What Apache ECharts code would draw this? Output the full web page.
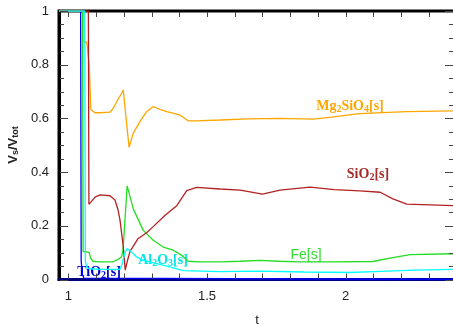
<!DOCTYPE html>
<html>
<head>
<meta charset="utf-8">
<script src="https://cdn.jsdelivr.net/npm/echarts@6/dist/echarts.min.js"></script>
<style>
  html, body { margin: 0; padding: 0; background: #fff; }
  #chart { width: 453px; height: 324px; }
</style>
</head>
<body>
<div id="chart"></div>
<script>
// values
const tTiO2 = [0.966, 1.044, 1.046, 1.050, 1.056, 1.062, 2.395];
const vTiO2 = [1, 1, 0.07, 0.02, 0.005, 0, 0];

const tFe = [0.966, 1.051, 1.053, 1.063, 1.075, 1.080, 1.088, 1.114, 1.161, 1.180, 1.192, 1.197, 1.212, 1.234, 1.270, 1.306, 1.342, 1.378, 1.409, 1.432, 1.475, 1.55, 1.62, 1.69, 1.76, 1.836, 1.95, 2.099, 2.16, 2.233, 2.395];
const vFe = [1, 1, 0.104, 0.104, 0.100, 0.080, 0.068, 0.066, 0.066, 0.075, 0.085, 0.11, 0.349, 0.263, 0.183, 0.146, 0.121, 0.109, 0.090, 0.068, 0.066, 0.066, 0.068, 0.071, 0.068, 0.066, 0.066, 0.067, 0.080, 0.093, 0.096];

const tMg2SiO4 = [0.966, 1.055, 1.057, 1.066, 1.073, 1.075, 1.081, 1.096, 1.114, 1.150, 1.160, 1.174, 1.190, 1.198, 1.208, 1.219, 1.234, 1.258, 1.282, 1.306, 1.330, 1.355, 1.402, 1.432, 1.463, 1.547, 1.65, 1.764, 1.883, 1.95, 2.05, 2.221, 2.395];
const vMg2SiO4 = [1, 1, 0.882, 0.885, 0.89, 0.80, 0.632, 0.621, 0.621, 0.623, 0.635, 0.662, 0.69, 0.706, 0.600, 0.492, 0.545, 0.588, 0.625, 0.644, 0.634, 0.625, 0.613, 0.591, 0.591, 0.594, 0.598, 0.600, 0.597, 0.605, 0.618, 0.625, 0.628];

const tSiO2 = [0.966, 1.072, 1.074, 1.079, 1.096, 1.114, 1.150, 1.168, 1.179, 1.186, 1.198, 1.205, 1.213, 1.222, 1.251, 1.282, 1.305, 1.348, 1.391, 1.427, 1.463, 1.547, 1.62, 1.70, 1.764, 1.872, 1.96, 2.052, 2.125, 2.171, 2.221, 2.395];
const vSiO2 = [1, 1, 0.28, 0.277, 0.307, 0.315, 0.312, 0.296, 0.260, 0.222, 0.122, 0.035, 0.07, 0.104, 0.152, 0.174, 0.196, 0.238, 0.275, 0.331, 0.343, 0.337, 0.333, 0.318, 0.333, 0.344, 0.335, 0.330, 0.325, 0.300, 0.281, 0.275];

const tAl2O3 = [0.966, 1.059, 1.061, 1.066, 1.075, 1.120, 1.186, 1.193, 1.204, 1.212, 1.225, 1.246, 1.270, 1.294, 1.355, 1.414, 1.547, 1.691, 1.85, 2.016, 2.125, 2.25, 2.395];
const vAl2O3 = [1, 1, 0.07, 0.045, 0.04, 0.038, 0.038, 0.056, 0.10, 0.115, 0.105, 0.084, 0.071, 0.066, 0.050, 0.033, 0.029, 0.031, 0.028, 0.026, 0.030, 0.035, 0.038];

// tick positions
const xLabelTicks = [1, 1.5, 2];
const xTicks = [1.0, 1.1, 1.2, 1.3, 1.4, 1.5, 1.6, 1.7, 1.8, 1.9, 2.0, 2.1, 2.2, 2.3];
const yMajorTicks = [0, 0.2, 0.4, 0.6, 0.8, 1];
const yMinorTicks = [0.05, 0.1, 0.15, 0.25, 0.3, 0.35, 0.45, 0.5, 0.55, 0.65, 0.7, 0.75, 0.85, 0.9, 0.95];

const pairs = (ts, vs) => ts.map((t, i) => [t, vs[i]]);

const chart = echarts.init(document.getElementById('chart'));

const line = (name, color, ts, vs) => ({
  name, type: 'line', data: pairs(ts, vs), showSymbol: false, symbol: 'none',
  lineStyle: { color, width: 1.3 }, silent: true,
});

const tickColor = '#444';

// ticks drawn inside the frame, bottom+top for t, left+right for V
const xTickSeries = {
  type: 'custom', silent: true, z: 5, clip: false,
  data: xTicks.map(t => [t, 0]),
  renderItem: (params, api) => {
    const cs = params.coordSys;
    const px = Math.round(api.coord([api.value(0), 0])[0]) + 0.5;
    const yb = cs.y + cs.height, yt = cs.y;
    return {
      type: 'group', children: [
        { type: 'line', shape: { x1: px, y1: yb - 1, x2: px, y2: yb - 6 }, style: { stroke: tickColor, lineWidth: 1 } },
        { type: 'line', shape: { x1: px, y1: yt + 1, x2: px, y2: yt + 6 }, style: { stroke: tickColor, lineWidth: 1 } },
      ],
    };
  },
};

const yTickSeries = (vals, len) => ({
  type: 'custom', silent: true, z: 5, clip: false,
  data: vals.map(v => [1, v]),
  renderItem: (params, api) => {
    const cs = params.coordSys;
    const py = Math.round(api.coord([1, api.value(1)])[1]) + 0.5;
    const xl = cs.x, xr = 453;
    return {
      type: 'group', children: [
        { type: 'line', shape: { x1: xl + 1, y1: py, x2: xl + 1 + len, y2: py }, style: { stroke: tickColor, lineWidth: 1 } },
        { type: 'line', shape: { x1: xr, y1: py, x2: xr - len, y2: py }, style: { stroke: tickColor, lineWidth: 1 } },
      ],
    };
  },
});

const labelText = (x, y, text, color, serif) => ({
  type: 'text', x, y,
  style: {
    text, fill: color, align: 'center', verticalAlign: 'middle',
    fontFamily: serif ? 'Liberation Serif' : 'Liberation Sans',
    fontSize: 14,
    rich: {
      b: { fontSize: 14, fontFamily: 'Liberation Serif', fontWeight: 'bold', fill: color },
      s: { fontSize: 10, fontFamily: 'Liberation Serif', fontWeight: 'bold', fill: color, padding: [7, 0, 0, 0] },
    },
  },
});

chart.setOption({
  animation: false,
  grid: {
    left: 59, top: 11, right: -2, bottom: 44.5, outerBoundsMode: 'none',
    show: true, borderColor: '#000', borderWidth: 3, backgroundColor: 'transparent',
  },
  xAxis: {
    type: 'value', min: 0.966, max: 2.395,
    axisLine: { show: true, lineStyle: { color: '#00007f', width: 3 } },
    axisTick: { show: false },
    axisLabel: { customValues: xLabelTicks, margin: 10, fontSize: 13, color: '#222', fontFamily: 'Liberation Sans' },
    splitLine: { show: false },
    name: 't', nameLocation: 'middle', nameGap: 34,
    nameTextStyle: { fontSize: 13, color: '#222', fontFamily: 'Liberation Sans' },
  },
  yAxis: {
    type: 'value', min: 0, max: 1, interval: 0.2,
    axisLine: { show: true, lineStyle: { color: '#000', width: 3 } },
    axisTick: { show: false },
    axisLabel: {
      margin: 10, fontSize: 13, color: '#222', fontFamily: 'Liberation Sans',
      formatter: v => String(+v.toFixed(1)),
    },
    splitLine: { show: false },
  },
  series: [
    line('TiO2[s]', '#0000ff', tTiO2, vTiO2),
    line('Fe[s]', '#22dd22', tFe, vFe),
    line('Mg2SiO4[s]', '#ffa500', tMg2SiO4, vMg2SiO4),
    line('SiO2[s]', '#b22222', tSiO2, vSiO2),
    line('Al2O3[s]', '#00ffff', tAl2O3, vAl2O3),
    xTickSeries,
    yTickSeries(yMajorTicks, 8),
    yTickSeries(yMinorTicks, 4),
  ],
  graphic: [
    {
      type: 'text', x: 13, y: 145, rotation: Math.PI / 2,
      style: {
        text: 'V{s|s}/V{s|tot}', fill: '#222', align: 'center', verticalAlign: 'middle',
        fontSize: 13, fontWeight: 'bold', fontFamily: 'Liberation Sans',
        rich: { s: { fontSize: 9, fontWeight: 'bold', fill: '#222', fontFamily: 'Liberation Sans', padding: [6, 0, 0, 0] } },
      },
    },
    labelText(350, 106, '{b|Mg}{s|2}{b|SiO}{s|4}{b|[s]}', '#ffa500', true),
    labelText(368, 174, '{b|SiO}{s|2}{b|[s]}', '#a52a2a', true),
    labelText(306, 255, 'Fe[s]', '#33dd33', false),
    labelText(163, 260, '{b|Al}{s|2}{b|O}{s|3}{b|[s]}', '#00e5e5', true),
    labelText(99, 272, '{b|TiO}{s|2}{b|[s]}', '#0000cc', true),
  ],
});
</script>
</body>
</html>
